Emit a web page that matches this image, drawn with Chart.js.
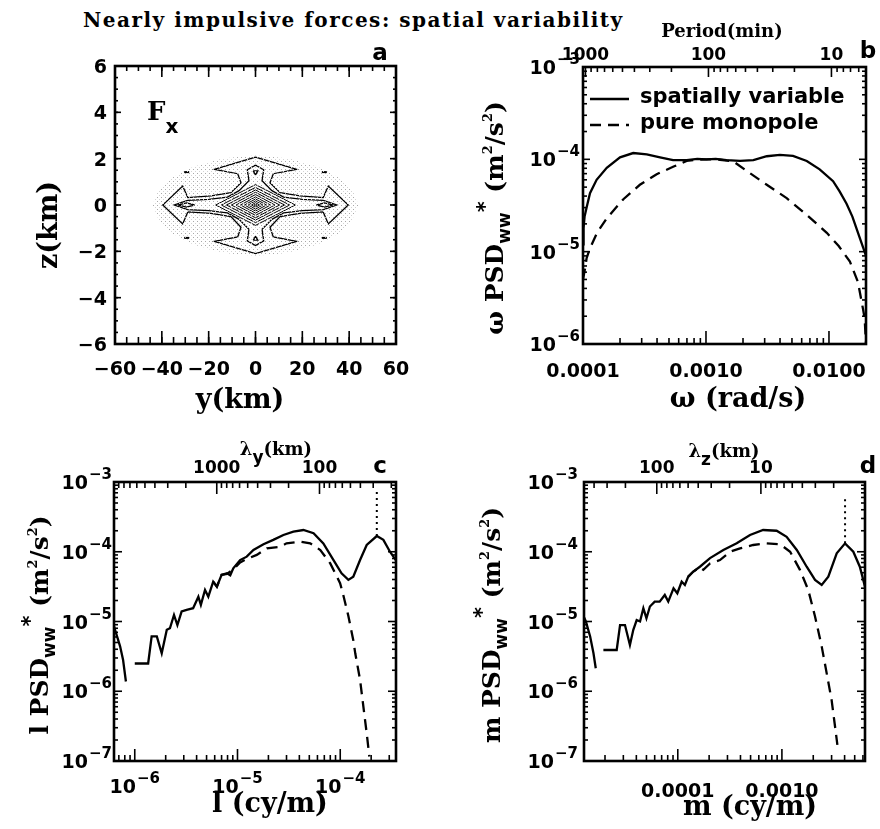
<!DOCTYPE html>
<html><head><meta charset="utf-8">
<title>Nearly impulsive forces: spatial variability</title>
<script src="https://cdn.jsdelivr.net/npm/chart.js@4.4.1/dist/chart.umd.min.js"></script>
<style>
html,body{margin:0;padding:0;background:#fff;}
#page{position:relative;width:880px;height:829px;overflow:hidden;background:#fff}
#page canvas{position:absolute}
#title{position:absolute;left:83px;top:9px;font:bold 20px "DejaVu Serif",serif;letter-spacing:1.5px;white-space:nowrap;color:#000;line-height:22px}
</style></head><body>
<div id="page">
<div id="title">Nearly impulsive forces: spatial variability</div>
<canvas id="pa" width="440" height="415" style="left:0;top:0"></canvas>
<canvas id="pb" width="440" height="415" style="left:440px;top:0"></canvas>
<canvas id="pc" width="440" height="414" style="left:0;top:415px"></canvas>
<canvas id="pd" width="440" height="414" style="left:440px;top:415px"></canvas>
</div>
<script>
const TAU = 2 * Math.PI;

// ---------- panel a: F_x forcing in the (y, z) plane ----------
const stippleY = [0, 15, 28, 36, 41, 44, 41, 36, 28, 15, 0, -15, -28, -36, -41, -44, -41, -36, -28, -15, 0];
const stippleZ = [2.15, 2.0, 1.6, 1.15, 0.7, 0, -0.7, -1.2, -1.65, -2.05, -2.2, -2.05, -1.65, -1.2, -0.7, 0, 0.7, 1.15, 1.6, 2.0, 2.15];

const outerY = [0, 17.6, 7.6, 6.2, 10.5, 19, 28.9, 31.1, 39.6, 31.1, 28.9, 19, 10.5, 6.2, 7.6, 17.6, 0,
                -17.6, -7.6, -6.2, -10.5, -19, -28.9, -31.1, -39.6, -31.1, -28.9, -19, -10.5, -6.2, -7.6, -17.6, 0];
const outerZ = [2.07, 1.54, 1.35, 0.96, 0.53, 0.39, 0.32, 0.82, 0, -0.82, -0.3, -0.36, -0.5, -0.96, -1.38, -1.57, -2.1,
                -1.57, -1.38, -0.96, -0.5, -0.36, -0.3, -0.82, 0, 0.82, 0.32, 0.39, 0.53, 0.96, 1.35, 1.54, 2.07];

const starY = [0, 3.5, 2.8, 7, 12, 20, 29, 34.7, 29, 20, 12, 7, 2.8, 3.5, 0,
               -3.5, -2.8, -7, -12, -20, -29, -34.7, -29, -20, -12, -7, -2.8, -3.5, 0];
const starZ = [1.72, 1.52, 1.05, 0.62, 0.34, 0.24, 0.2, 0, -0.2, -0.24, -0.34, -0.62, -1.05, -1.55, -1.75,
               -1.55, -1.05, -0.62, -0.34, -0.24, -0.2, 0, 0.2, 0.24, 0.34, 0.62, 1.05, 1.52, 1.72];

// nested central diamonds: half-width in y (km) and half-height in z (km)
const diamondHalfY = [17, 14.6, 12.4, 10.3, 8.3, 6.4, 4.7, 3.1, 1.7, 0.6];
const diamondHalfZ = [0.88, 0.76, 0.65, 0.55, 0.45, 0.35, 0.26, 0.18, 0.1, 0.04];

const triTopY = [-1, 1, 0, -1];      const triTopZ = [1.47, 1.47, 1.3, 1.47];
const triBotY = [-1, 1, 0, -1];      const triBotZ = [-1.52, -1.52, -1.35, -1.52];
const eyeRightY = [26, 29.5, 33, 29.5, 26];
const eyeLeftY = [-26, -29.5, -33, -29.5, -26];
const eyeZ = [0, 0.09, 0, -0.09, 0];
const dotY = [-29.4, 29.4, -29.4, 29.4];
const dotZ = [1.42, 1.42, -1.42, -1.42];

const aYTicks = [-60, -40, -20, 0, 20, 40, 60];
const aYLabels = ['\u221260', '\u221240', '\u221220', '0', '20', '40', '60'];
const aZTicks = [-6, -4, -2, 0, 2, 4, 6];
const aZLabels = ['\u22126', '\u22124', '\u22122', '0', '2', '4', '6'];

// ---------- panel b: frequency spectrum ----------
const omegaSolid = [1.0e-4, 1.01e-4, 1.03e-4, 1.07e-4, 1.14e-4, 1.29e-4, 1.56e-4, 2.0e-4, 2.56e-4, 3.3e-4, 4.23e-4,
  5.4e-4, 6.96e-4, 8.5e-4, 1.01e-3, 1.2e-3, 1.47e-3, 1.89e-3, 2.43e-3, 3.12e-3, 3.99e-3, 5.1e-3, 6.6e-3, 8.4e-3,
  1.08e-2, 1.22e-2, 1.39e-2, 1.55e-2, 1.67e-2, 1.8e-2, 1.9e-2, 2.0e-2];
const psdOmegaSolid = [1.2e-5, 1.8e-5, 2.4e-5, 3.0e-5, 4.3e-5, 6.0e-5, 8.1e-5, 1.05e-4, 1.17e-4, 1.13e-4, 1.05e-4,
  9.8e-5, 9.8e-5, 1.01e-4, 1.0e-4, 1.01e-4, 9.8e-5, 9.6e-5, 9.8e-5, 1.08e-4, 1.12e-4, 1.09e-4, 9.6e-5, 7.8e-5,
  5.8e-5, 4.5e-5, 3.3e-5, 2.4e-5, 1.8e-5, 1.35e-5, 1.1e-5, 9.0e-6];
const omegaDashed = [1.0e-4, 1.04e-4, 1.07e-4, 1.14e-4, 1.3e-4, 1.56e-4, 2.13e-4, 2.9e-4, 3.97e-4, 5.4e-4, 6.96e-4,
  8.5e-4, 1.05e-3, 1.3e-3, 1.67e-3, 2.14e-3, 3.12e-3, 4.53e-3, 6.6e-3, 9.6e-3, 1.2e-2, 1.48e-2, 1.72e-2, 1.89e-2, 1.95e-2, 2.0e-2];
const psdOmegaDashed = [5.0e-6, 6.6e-6, 8.5e-6, 1.09e-5, 1.6e-5, 2.3e-5, 3.7e-5, 5.3e-5, 6.9e-5, 8.3e-5, 9.6e-5,
  9.9e-5, 1.0e-4, 9.9e-5, 9.5e-5, 7.5e-5, 5.3e-5, 3.8e-5, 2.5e-5, 1.6e-5, 1.15e-5, 7.8e-6, 4.7e-6, 2.4e-6, 1.9e-6, 1.0e-6];
const bOmegaTicks = [1e-4, 1e-3, 1e-2];
const bOmegaLabels = ['0.0001', '0.0010', '0.0100'];
const bPsdExps = [-6, -5, -4, -3];
const bPeriodTicks = [1000, 100, 10];
const bPeriodLabels = ['1000', '100', '10'];

// ---------- panel c: horizontal wavenumber spectrum ----------
const lSolidA = [6.28e-7, 6.43e-7, 7.2e-7, 7.7e-7, 8.2e-7];
const psdLSolidA = [8.5e-6, 7.6e-6, 4.4e-6, 2.8e-6, 1.38e-6];
const lSolidB = [1.0e-6, 1.35e-6, 1.46e-6, 1.64e-6, 1.83e-6, 2.05e-6, 2.2e-6, 2.41e-6, 2.6e-6, 2.86e-6, 3.2e-6,
  3.7e-6, 4.16e-6, 4.4e-6, 4.83e-6, 5.2e-6, 5.8e-6, 6.3e-6, 7.0e-6, 7.9e-6, 8.5e-6, 9.1e-6, 1.06e-5, 1.23e-5,
  1.43e-5, 1.79e-5, 2.23e-5, 2.8e-5, 3.5e-5, 4.38e-5, 5.5e-5, 6.85e-5, 8.6e-5, 1.03e-4, 1.2e-4, 1.34e-4, 1.56e-4,
  1.81e-4, 2.27e-4, 2.63e-4, 3.05e-4, 3.49e-4];
const psdLSolidB = [2.5e-6, 2.5e-6, 6.1e-6, 6.1e-6, 3.5e-6, 7.6e-6, 8.0e-6, 1.24e-5, 8.9e-6, 1.39e-5, 1.47e-5,
  1.55e-5, 2.27e-5, 1.73e-5, 2.84e-5, 2.27e-5, 3.73e-5, 3.16e-5, 4.66e-5, 4.9e-5, 4.6e-5, 5.8e-5, 7.6e-5, 8.5e-5,
  1.06e-4, 1.28e-4, 1.48e-4, 1.74e-4, 1.94e-4, 2.05e-4, 1.84e-4, 1.32e-4, 7.6e-5, 4.9e-5, 3.95e-5, 4.4e-5, 7.6e-5,
  1.25e-4, 1.68e-4, 1.48e-4, 1.0e-4, 7.5e-5];
const lDashed = [5.8e-6, 6.3e-6, 7.0e-6, 7.9e-6, 9.1e-6, 1.06e-5, 1.23e-5, 1.54e-5, 1.93e-5, 2.6e-5, 3.0e-5, 4.07e-5,
  5.1e-5, 6.4e-5, 8.0e-5, 9.97e-5, 1.07e-4, 1.2e-4, 1.34e-4, 1.4e-4, 1.56e-4, 1.68e-4, 1.81e-4, 1.92e-4];
const psdLDashed = [3.73e-5, 3.16e-5, 4.66e-5, 4.8e-5, 5.6e-5, 7.0e-5, 7.9e-5, 9.0e-5, 1.12e-4, 1.18e-4, 1.32e-4, 1.4e-4,
  1.32e-4, 1.06e-4, 6.8e-5, 3.54e-5, 2.4e-5, 1.2e-5, 5.4e-6, 3.5e-6, 1.46e-6, 6.0e-7, 2.5e-7, 1.16e-7];
const lPeak = [2.27e-4, 2.27e-4];
const lPeakPsd = [1.68e-4, 7.5e-4];
const cLExps = [-6, -5, -4];
const cPsdExps = [-7, -6, -5, -4, -3];
const cLambdaTicks = [1000, 100];
const cLambdaLabels = ['1000', '100'];

// ---------- panel d: vertical wavenumber spectrum ----------
const mSolidA = [1.257e-5, 1.31e-5, 1.44e-5, 1.55e-5, 1.63e-5];
const psdMSolidA = [1.15e-5, 1.0e-5, 6.1e-6, 3.5e-6, 2.14e-6];
const mSolidB = [1.93e-5, 2.59e-5, 2.79e-5, 3.11e-5, 3.47e-5, 3.74e-5, 4.03e-5, 4.34e-5, 4.67e-5, 5.0e-5, 5.4e-5,
  6.0e-5, 6.7e-5, 7.5e-5, 8.1e-5, 9.1e-5, 9.9e-5, 1.09e-4, 1.17e-4, 1.26e-4, 1.41e-4, 1.63e-4, 2.04e-4, 2.74e-4,
  3.68e-4, 4.94e-4, 6.6e-4, 8.9e-4, 1.11e-3, 1.39e-3, 1.73e-3, 2.08e-3, 2.41e-3, 2.79e-3, 3.36e-3, 4.04e-3, 4.85e-3,
  5.6e-3, 6.28e-3];
const psdMSolidB = [3.9e-6, 3.9e-6, 8.9e-6, 8.9e-6, 4.6e-6, 7.6e-6, 1.05e-5, 1.0e-5, 1.55e-5, 1.11e-5, 1.64e-5,
  1.93e-5, 1.93e-5, 2.4e-5, 1.93e-5, 3.0e-5, 2.54e-5, 3.73e-5, 3.34e-5, 4.4e-5, 5.2e-5, 6.1e-5, 8.1e-5, 1.06e-4,
  1.32e-4, 1.74e-4, 2.05e-4, 2.0e-4, 1.64e-4, 1.06e-4, 6.1e-5, 3.95e-5, 3.34e-5, 4.4e-5, 9.5e-5, 1.32e-4, 1.0e-4,
  6.1e-5, 3.16e-5];
const mDashed = [1.26e-4, 1.41e-4, 1.63e-4, 1.76e-4, 2.04e-4, 2.54e-4, 3.18e-4, 3.96e-4, 5.3e-4, 7.1e-4, 9.6e-4,
  1.2e-3, 1.49e-3, 1.79e-3, 2.08e-3, 2.41e-3, 2.69e-3, 3.0e-3, 3.24e-3, 3.41e-3];
const psdMDashed = [4.4e-5, 5.2e-5, 6.0e-5, 5.5e-5, 6.8e-5, 7.6e-5, 1.0e-4, 1.12e-4, 1.25e-4, 1.32e-4, 1.28e-4,
  1.0e-4, 5.5e-5, 2.84e-5, 1.18e-5, 4.4e-6, 1.82e-6, 7.5e-7, 3.1e-7, 1.7e-7];
const mPeak = [4.04e-3, 4.04e-3];
const mPeakPsd = [1.32e-4, 6.2e-4];
const dMTicks = [1e-4, 1e-3];
const dMLabels = ['0.0001', '0.0010'];
const dLambdaTicks = [100, 10];
const dLambdaLabels = ['100', '10'];

// ---------- helpers ----------
const SANS = '"DejaVu Sans", sans-serif';
const SERIF = '"DejaVu Serif", serif';
const F = {
  tick: `bold 19px ${SANS}`,
  exp: `bold 15px ${SANS}`,
  top: `bold 17px ${SANS}`,
  title: `bold 25px ${SERIF}`,
  xtitle: `bold 27px ${SERIF}`,
  sub: `bold 17px ${SANS}`,
  star: `bold 21px ${SANS}`,
  sup: `bold 13px ${SERIF}`,
  topTitle: `bold 18px ${SERIF}`,
  letter: `bold 23px ${SANS}`,
  legend: `bold 21px ${SANS}`
};

function zip(xs, ys) { return xs.map((x, i) => ({ x, y: ys[i] })); }
function withGap(a, b) { return [...a, { x: a[a.length - 1].x, y: null }, ...b]; }
// 2..9 x 10^n values inside [lo, hi], used for minor tick marks
function decadeMinors(lo, hi) {
  const out = [];
  for (let e = Math.floor(Math.log10(lo)) - 1; e <= Math.ceil(Math.log10(hi)); e++) {
    for (let k = 2; k <= 9; k++) {
      const v = k * Math.pow(10, e);
      if (v >= lo * 0.999 && v <= hi * 1.001) out.push(v);
    }
  }
  return out;
}
function stepValues(lo, hi, step) {
  const out = [];
  for (let v = lo; v <= hi + 1e-9; v += step) out.push(+v.toFixed(6));
  return out;
}
const periodToOmega = p => TAU / (60 * p);        // period (min) -> rad/s
const lambdaToWavenumber = L => TAU / (1000 * L); // wavelength (km) -> wavenumber

function runs(ctx, list, x, y, align, rotate) {
  ctx.save();
  ctx.translate(x, y);
  if (rotate) ctx.rotate(-Math.PI / 2);
  ctx.textAlign = 'left';
  ctx.textBaseline = 'alphabetic';
  ctx.fillStyle = '#000';
  let w = 0;
  list.forEach(r => { ctx.font = r.f; r.w = ctx.measureText(r.t).width + (r.dx || 0); w += r.w; });
  let cx = align === 'center' ? -w / 2 : align === 'right' ? -w : 0;
  list.forEach(r => { ctx.font = r.f; ctx.fillText(r.t, cx + (r.dx || 0), r.dy || 0); cx += r.w; });
  ctx.restore();
}
const pow10 = e => [{ t: '10', f: F.tick }, { t: '\u2212' + Math.abs(e), f: F.exp, dy: -10, dx: 1 }];

const framePlugin = {
  id: 'frame',
  afterDatasetsDraw(chart, args, opts) {
    const { ctx, chartArea: ca, scales } = chart;
    ctx.save();
    ctx.strokeStyle = '#000';
    ctx.lineCap = 'butt';
    ctx.lineWidth = 1.6;
    (opts.axes || []).forEach(ax => {
      const sc = scales[ax.scale];
      const draw = (vals, len) => vals.forEach(v => {
        const p = sc.getPixelForValue(v);
        ctx.beginPath();
        if (ax.side === 'bottom' || ax.side === 'top') {
          if (p < ca.left - 0.5 || p > ca.right + 0.5) return;
          const y0 = ax.side === 'bottom' ? ca.bottom : ca.top;
          const y1 = ax.side === 'bottom' ? ca.bottom - len : ca.top + len;
          ctx.moveTo(p, y0); ctx.lineTo(p, y1);
        } else {
          if (p < ca.top - 0.5 || p > ca.bottom + 0.5) return;
          const x0 = ax.side === 'left' ? ca.left : ca.right;
          const x1 = ax.side === 'left' ? ca.left + len : ca.right - len;
          ctx.moveTo(x0, p); ctx.lineTo(x1, p);
        }
        ctx.stroke();
      });
      draw(ax.minor || [], ax.len[1]);
      draw(ax.major || [], ax.len[0]);
    });
    ctx.lineWidth = 2.6;
    ctx.strokeRect(ca.left, ca.top, ca.right - ca.left, ca.bottom - ca.top);
    if (opts.draw) opts.draw(ctx, chart);
    ctx.restore();
  }
};
Chart.register(framePlugin);

function baseOptions(pad, xs, ys, frame) {
  return {
    responsive: false, animation: false, devicePixelRatio: 1,
    layout: { padding: pad },
    scales: { x: Object.assign({ display: false }, xs), y: Object.assign({ display: false }, ys) },
    plugins: { legend: { display: false }, tooltip: { enabled: false }, frame },
    elements: { point: { radius: 0 }, line: { tension: 0 } }
  };
}
const line = (data, extra) => Object.assign({ data, showLine: true, borderColor: '#000', borderWidth: 2.3,
  pointRadius: 0, fill: false, spanGaps: false }, extra);

// ---------- panel a ----------
function stipplePattern() {
  const c = document.createElement('canvas');
  c.width = 4; c.height = 4;
  const g = c.getContext('2d');
  g.fillStyle = '#a8a8a8';
  g.fillRect(1, 1, 1, 1);
  g.fillStyle = '#d4d4d4';
  g.fillRect(3, 3, 1, 1);
  return g.createPattern(c, 'repeat');
}
const contourStyle = { borderWidth: 1.3 };
const aDatasets = [
  line(zip(stippleY, stippleZ), { fill: 'shape', backgroundColor: stipplePattern(), borderWidth: 0, borderColor: 'rgba(0,0,0,0)' }),
  line(zip(outerY, outerZ), contourStyle),
  line(zip(starY, starZ), contourStyle),
  ...diamondHalfY.map((a, i) => line(zip([0, a, 0, -a, 0], [diamondHalfZ[i], 0, -diamondHalfZ[i], 0, diamondHalfZ[i]]), { borderWidth: 1.0 })),
  line(zip(triTopY, triTopZ), contourStyle),
  line(zip(triBotY, triBotZ), contourStyle),
  line(zip(eyeRightY, eyeZ), contourStyle),
  line(zip(eyeLeftY, eyeZ), contourStyle),
  { data: zip(dotY, dotZ), showLine: false, pointStyle: 'line', pointRadius: 2.5, pointBorderWidth: 2, pointBorderColor: '#000', pointBackgroundColor: '#000' }
];
new Chart(document.getElementById('pa'), {
  type: 'scatter',
  data: { datasets: aDatasets },
  options: baseOptions({ left: 115, right: 44, top: 66, bottom: 71 },
    { type: 'linear', min: -60, max: 60 }, { type: 'linear', min: -6, max: 6 },
    {
      axes: [
        { scale: 'x', side: 'bottom', major: aYTicks, minor: stepValues(-60, 60, 5), len: [13, 7] },
        { scale: 'x', side: 'top', major: aYTicks, minor: stepValues(-60, 60, 5), len: [11, 5] },
        { scale: 'y', side: 'left', major: aZTicks, minor: stepValues(-6, 6, 0.5), len: [6, 3] },
        { scale: 'y', side: 'right', major: aZTicks, minor: stepValues(-6, 6, 0.5), len: [6, 3] }
      ],
      draw(ctx, chart) {
        const ca = chart.chartArea, sx = chart.scales.x, sy = chart.scales.y;
        aYTicks.forEach((v, i) => runs(ctx, [{ t: aYLabels[i], f: F.tick }], sx.getPixelForValue(v), 375, 'center'));
        aZTicks.forEach((v, i) => runs(ctx, [{ t: aZLabels[i], f: F.tick }], ca.left - 8, sy.getPixelForValue(v) + 7, 'right'));
        runs(ctx, [{ t: 'y(km)', f: F.xtitle }], 240, 408, 'center');
        runs(ctx, [{ t: 'z(km)', f: F.xtitle }], 57, 225, 'center', true);
        runs(ctx, [{ t: 'a', f: F.letter }], 380, 60, 'center');
        runs(ctx, [{ t: 'F', f: `bold 26px ${SERIF}` }, { t: 'x', f: `bold 20px ${SANS}`, dy: 13 }], 147, 120, 'left');
      }
    })
});

// ---------- panel b ----------
const bPeriodMinor = decadeMinors(TAU / (60 * 0.02), TAU / (60 * 1e-4)).filter(p => !bPeriodTicks.includes(p));
new Chart(document.getElementById('pb'), {
  type: 'scatter',
  data: {
    datasets: [
      line(zip(omegaSolid, psdOmegaSolid), { label: 'spatially variable' }),
      line(zip(omegaDashed, psdOmegaDashed), { label: 'pure monopole', borderDash: [11, 7] })
    ]
  },
  options: baseOptions({ left: 143, right: 14, top: 67, bottom: 71 },
    { type: 'logarithmic', min: 1e-4, max: 0.02 }, { type: 'logarithmic', min: 1e-6, max: 1e-3 },
    {
      axes: [
        { scale: 'x', side: 'bottom', major: bOmegaTicks, minor: decadeMinors(1e-4, 0.02), len: [13, 6] },
        { scale: 'x', side: 'top', major: bPeriodTicks.map(periodToOmega), minor: bPeriodMinor.map(periodToOmega), len: [10, 5] },
        { scale: 'y', side: 'left', major: bPsdExps.map(e => Math.pow(10, e)), minor: decadeMinors(1e-6, 1e-3), len: [7, 4] },
        { scale: 'y', side: 'right', major: bPsdExps.map(e => Math.pow(10, e)), minor: decadeMinors(1e-6, 1e-3), len: [7, 4] }
      ],
      draw(ctx, chart) {
        const ca = chart.chartArea, sx = chart.scales.x, sy = chart.scales.y;
        bOmegaTicks.forEach((v, i) => runs(ctx, [{ t: bOmegaLabels[i], f: F.tick }], sx.getPixelForValue(v), 377, 'center'));
        bPsdExps.forEach(e => runs(ctx, pow10(e), ca.left - 3, sy.getPixelForValue(Math.pow(10, e)) + 7, 'right'));
        bPeriodTicks.forEach((p, i) => runs(ctx, [{ t: bPeriodLabels[i], f: F.top }], sx.getPixelForValue(periodToOmega(p)), 60, 'center'));
        runs(ctx, [{ t: 'Period(min)', f: F.topTitle }], 282, 37, 'center');
        runs(ctx, [{ t: '\u03c9 (rad/s)', f: F.xtitle }], 298, 407, 'center');
        runs(ctx, [{ t: '\u03c9 PSD', f: F.title }, { t: 'ww', f: F.sub, dy: 7 }, { t: '*', f: F.star, dy: -11 },
          { t: ' (m', f: F.title }, { t: '2', f: F.sup, dy: -11 }, { t: '/s', f: F.title }, { t: '2', f: F.sup, dy: -11 },
          { t: ')', f: F.title }], 63, 218, 'center', true);
        runs(ctx, [{ t: 'b', f: F.letter }], 428, 58, 'center');
        // legend, styled from the datasets
        chart.data.datasets.forEach((ds, i) => {
          const y = 99 + i * 26;
          ctx.save();
          ctx.lineWidth = ds.borderWidth;
          ctx.setLineDash(ds.borderDash || []);
          ctx.beginPath(); ctx.moveTo(ca.left + 7, y); ctx.lineTo(ca.left + 46, y); ctx.stroke();
          ctx.restore();
          runs(ctx, [{ t: ds.label, f: F.legend }], ca.left + 57, y + 4, 'left');
        });
      }
    })
});

// ---------- panel c ----------
const cRange = [6.28e-7, 3.49e-4];
const cLambdaMajor = [10000, 1000, 100];
const cLambdaMinor = decadeMinors(TAU / (1000 * cRange[1]), TAU / (1000 * cRange[0])).filter(L => !cLambdaMajor.includes(L));
function ytitle(sym) {
  return [{ t: sym + ' PSD', f: F.title }, { t: 'ww', f: F.sub, dy: 7 }, { t: '*', f: F.star, dy: -11 },
    { t: ' (m', f: F.title }, { t: '2', f: F.sup, dy: -11 }, { t: '/s', f: F.title }, { t: '2', f: F.sup, dy: -11 },
    { t: ')', f: F.title }];
}
new Chart(document.getElementById('pc'), {
  type: 'scatter',
  data: {
    datasets: [
      line(withGap(zip(lSolidA, psdLSolidA), zip(lSolidB, psdLSolidB))),
      line(zip(lDashed, psdLDashed), { borderDash: [11, 7] }),
      line(zip(lPeak, lPeakPsd), { borderDash: [2, 4], borderWidth: 2 })
    ]
  },
  options: baseOptions({ left: 114, right: 44, top: 67, bottom: 68 },
    { type: 'logarithmic', min: cRange[0], max: cRange[1] }, { type: 'logarithmic', min: 1e-7, max: 1e-3 },
    {
      axes: [
        { scale: 'x', side: 'bottom', major: cLExps.map(e => Math.pow(10, e)), minor: decadeMinors(cRange[0], cRange[1]), len: [12, 6] },
        { scale: 'x', side: 'top', major: cLambdaMajor.map(lambdaToWavenumber), minor: cLambdaMinor.map(lambdaToWavenumber), len: [12, 6] },
        { scale: 'y', side: 'left', major: cPsdExps.map(e => Math.pow(10, e)), minor: decadeMinors(1e-7, 1e-3), len: [8, 4] },
        { scale: 'y', side: 'right', major: cPsdExps.map(e => Math.pow(10, e)), minor: decadeMinors(1e-7, 1e-3), len: [8, 4] }
      ],
      draw(ctx, chart) {
        const ca = chart.chartArea, sx = chart.scales.x, sy = chart.scales.y;
        cLExps.forEach(e => runs(ctx, pow10(e), sx.getPixelForValue(Math.pow(10, e)), 378, 'center'));
        cPsdExps.forEach(e => runs(ctx, pow10(e), ca.left - 2, sy.getPixelForValue(Math.pow(10, e)) + 7, 'right'));
        cLambdaTicks.forEach((L, i) => runs(ctx, [{ t: cLambdaLabels[i], f: F.top }], sx.getPixelForValue(lambdaToWavenumber(L)), 58, 'center'));
        runs(ctx, [{ t: '\u03bb', f: F.topTitle }, { t: 'y', f: `bold 17px ${SANS}`, dy: 8 }, { t: '(km)', f: F.topTitle }], 276, 40, 'center');
        runs(ctx, [{ t: 'l (cy/m)', f: F.xtitle }], 270, 397, 'center');
        runs(ctx, ytitle('l'), 48, 210, 'center', true);
        runs(ctx, [{ t: 'c', f: F.letter }], 380, 58, 'center');
      }
    })
});

// ---------- panel d ----------
const dRange = [1.257e-5, 6.28e-3];
const dLambdaMajor = [100, 10, 1];
const dLambdaMinor = decadeMinors(TAU / (1000 * dRange[1]), TAU / (1000 * dRange[0])).filter(L => !dLambdaMajor.includes(L));
new Chart(document.getElementById('pd'), {
  type: 'scatter',
  data: {
    datasets: [
      line(withGap(zip(mSolidA, psdMSolidA), zip(mSolidB, psdMSolidB))),
      line(zip(mDashed, psdMDashed), { borderDash: [11, 7] }),
      line(zip(mPeak, mPeakPsd), { borderDash: [2, 4], borderWidth: 2 })
    ]
  },
  options: baseOptions({ left: 144, right: 15, top: 67, bottom: 68 },
    { type: 'logarithmic', min: dRange[0], max: dRange[1] }, { type: 'logarithmic', min: 1e-7, max: 1e-3 },
    {
      axes: [
        { scale: 'x', side: 'bottom', major: dMTicks, minor: decadeMinors(dRange[0], dRange[1]), len: [12, 6] },
        { scale: 'x', side: 'top', major: dLambdaMajor.map(lambdaToWavenumber), minor: dLambdaMinor.map(lambdaToWavenumber), len: [12, 6] },
        { scale: 'y', side: 'left', major: cPsdExps.map(e => Math.pow(10, e)), minor: decadeMinors(1e-7, 1e-3), len: [8, 4] },
        { scale: 'y', side: 'right', major: cPsdExps.map(e => Math.pow(10, e)), minor: decadeMinors(1e-7, 1e-3), len: [8, 4] }
      ],
      draw(ctx, chart) {
        const ca = chart.chartArea, sx = chart.scales.x, sy = chart.scales.y;
        dMTicks.forEach((v, i) => runs(ctx, [{ t: dMLabels[i], f: F.tick }], sx.getPixelForValue(v), 382, 'center'));
        cPsdExps.forEach(e => runs(ctx, pow10(e), ca.left - 6, sy.getPixelForValue(Math.pow(10, e)) + 7, 'right'));
        dLambdaTicks.forEach((L, i) => runs(ctx, [{ t: dLambdaLabels[i], f: F.top }], sx.getPixelForValue(lambdaToWavenumber(L)), 58, 'center'));
        runs(ctx, [{ t: '\u03bb', f: F.topTitle }, { t: 'z', f: `bold 17px ${SANS}`, dy: 8 }, { t: '(km)', f: F.topTitle }], 284, 42, 'center');
        runs(ctx, [{ t: 'm (cy/m)', f: F.xtitle }], 310, 400, 'center');
        runs(ctx, ytitle('m'), 60, 210, 'center', true);
        runs(ctx, [{ t: 'd', f: F.letter }], 428, 58, 'center');
      }
    })
});
</script>
</body></html>
